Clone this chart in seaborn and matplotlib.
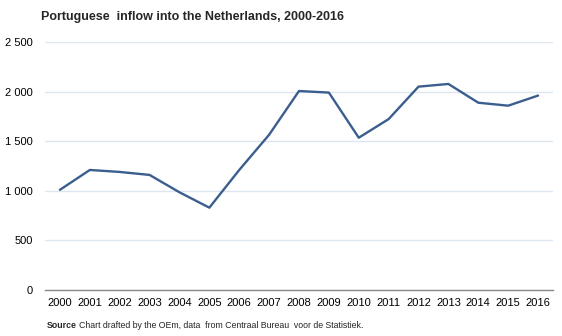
import matplotlib
matplotlib.use("Agg")
import matplotlib.pyplot as plt
import seaborn as sns
import pandas as pd
from matplotlib.ticker import FuncFormatter

years = [str(y) for y in range(2000, 2017)]
inflow = [1010, 1210, 1190, 1160, 985, 830, 1210, 1565, 2006, 1990, 1535,
          1723, 2050, 2077, 1888, 1858, 1960]

df = pd.DataFrame({"year": years, "inflow": inflow})
df["pos"] = range(len(years))

sns.set_theme(style="white")
plt.rcParams['font.family'] = ['Liberation Sans', 'DejaVu Sans']

fig = plt.figure(figsize=(5.62, 3.36), dpi=100)
ax = fig.add_axes([45/562, 1-290/336, 508/562, 248/336])

sns.lineplot(data=df, x="pos", y="inflow", ax=ax, color="#3B5E8E", linewidth=1.7)

ax.set_xlim(-0.5, len(years)-0.5)
ax.set_ylim(0, 2500)
ax.set_yticks([0, 500, 1000, 1500, 2000, 2500])
ax.yaxis.set_major_formatter(FuncFormatter(lambda v, p: f"{int(v):,}".replace(",", " ")))
ax.set_xticks(range(len(years)))
ax.set_xticklabels(years)
ax.tick_params(axis="both", labelsize=8, length=0, colors="black")
ax.tick_params(axis="x", pad=6)
ax.tick_params(axis="y", pad=9)
ax.set_xlabel("")
ax.set_ylabel("")
ax.grid(axis="y", color="#DCE6F0", linewidth=1.0)
ax.set_axisbelow(True)
for s in ["top", "right", "left"]:
    ax.spines[s].set_visible(False)
ax.spines["bottom"].set_color("#888888")
ax.spines["bottom"].set_linewidth(1.0)

fig.text(41/562, 1-17/336, "Portuguese  inflow into the Netherlands, 2000-2016",
         fontsize=9, fontweight="bold", va="center", ha="left")
fig.text(47/562, 1-325/336, "Source", fontsize=6.3, fontweight="bold", va="center", ha="left")
fig.text(79/562, 1-325/336, "Chart drafted by the OEm, data  from Centraal Bureau  voor de Statistiek.",
         fontsize=6.3, va="center", ha="left")

fig.savefig("out.png", dpi=100)
